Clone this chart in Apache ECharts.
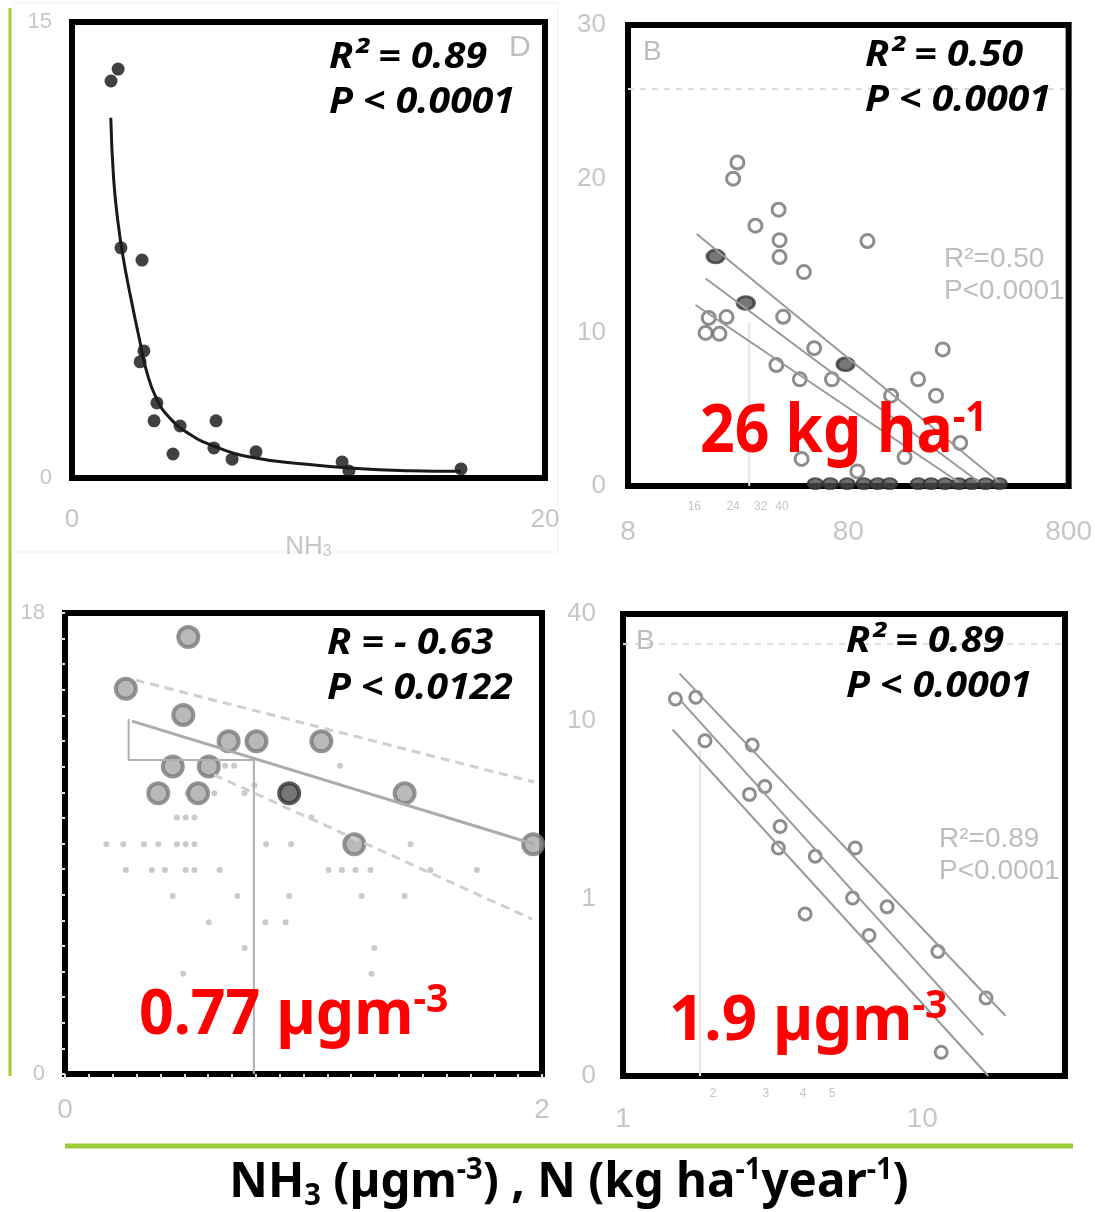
<!DOCTYPE html>
<html>
<head>
<meta charset="utf-8">
<title>NH3 / N deposition thresholds</title>
<script src="https://cdn.jsdelivr.net/npm/echarts@6.0.0/dist/echarts.min.js"></script>
<style>
  html, body { margin: 0; padding: 0; background: #fff; }
  #chart { width: 1095px; height: 1212px; }
</style>
</head>
<body>
<div id="chart"></div>
<script>
// ---- panel 1 (top left): NH3 concentration, power-law fit ----
const p1Nh3   = [1.65, 1.95, 2.07, 2.96, 3.04, 2.88, 3.59, 3.47, 4.57, 6.09, 4.27, 6.00, 6.77, 7.78, 11.42, 11.71, 16.45];
const p1Value = [13.06, 13.45, 7.57, 7.17, 4.18, 3.82, 2.47, 1.88, 1.71, 1.88, 0.79, 0.99, 0.62, 0.86, 0.53, 0.23, 0.30];
const p1FitX  = [1.64, 1.76, 1.94, 2.16, 2.47, 2.85, 3.15, 3.60, 4.20, 4.96, 6.00, 7.53, 9.79, 12.05, 14.32, 16.44];
const p1FitY  = [11.85, 9.85, 8.44, 7.27, 5.99, 4.57, 3.52, 2.57, 1.92, 1.45, 1.05, 0.69, 0.46, 0.31, 0.24, 0.22];
const p1XTicks = [0, 20];
const p1YTicks = [0, 15];

// ---- panel 2 (top right): N deposition (log x) ----
const p2Dep   = [25.1, 24.0, 38.6, 30.3, 39.0, 39.0, 97.7, 50.3, 18.6, 22.4, 18.0, 20.8, 40.5, 56.0, 37.7, 48.2, 67.4, 214.6, 165.9, 125.1, 200, 257.6, 144, 49.1, 87.9];
const p2Value = [21.05, 20.0, 17.98, 16.94, 16.0, 14.9, 15.94, 13.92, 10.94, 10.99, 9.96, 9.90, 11.01, 8.97, 7.87, 6.94, 6.94, 8.89, 6.94, 5.88, 5.88, 2.80, 1.88, 1.76, 0.95];
const p2DarkDep   = [20.0, 27.4, 77.7];
const p2DarkValue = [14.94, 11.91, 7.92];
const p2ZeroDep   = [56.6, 66.2, 79.0, 94.1, 108.8, 123.2, 166.2, 190.2, 219.8, 254, 290.5, 335.8, 388];
const p2ZeroValue = [0.15, 0.15, 0.15, 0.15, 0.15, 0.15, 0.15, 0.15, 0.15, 0.15, 0.15, 0.15, 0.15];
const p2FitUpper = [[16.4, 16.4], [386.7, 0.26]];
const p2FitMid   = [[18.0, 13.5], [313, 0.26]];
const p2FitLower = [[16.2, 11.78], [253, 0.26]];
const p2RefLine  = [[8, 25.83], [800, 25.83]];
const p2Threshold = [[28.4, 10.7], [28.4, 0]];
const p2XTicks = [8, 80, 800];
const p2XMinorTicks = [16, 24, 32, 40];
const p2YTicks = [0, 10, 20, 30];

// ---- panel 3 (bottom left): NH3, linear ----
const p3BigNh3   = [0.517, 0.255, 0.496, 0.686, 0.803, 1.075, 0.452, 0.603, 0.391, 0.558, 1.424, 1.213, 1.963];
const p3BigValue = [17.06, 15.04, 14.02, 12.99, 12.99, 12.99, 12.01, 12.01, 10.96, 10.96, 10.96, 8.97, 8.97];
const p3DarkNh3   = [0.940];
const p3DarkValue = [10.96];
const p3DotNh3 = [0.671, 0.709, 1.153, 0.794, 0.514, 0.626, 0.753, 0.469, 0.506, 0.543, 1.033,
  0.174, 0.244, 0.331, 0.391, 0.469, 0.506, 0.543, 0.843, 0.948, 1.449,
  0.255, 0.364, 0.419, 0.506, 0.543, 0.648, 1.105, 1.161, 1.218, 1.281, 1.532, 1.727,
  0.452, 0.723, 0.940, 1.244, 1.424, 0.603, 0.840, 0.925, 0.753, 1.297, 0.496, 1.285];
const p3DotValue = [12.04, 12.04, 12.04, 11.27, 10.96, 10.96, 10.96, 10.02, 10.02, 10.02, 10.02,
  8.97, 8.97, 8.97, 8.97, 8.97, 8.97, 8.97, 8.97, 8.97, 8.97,
  7.97, 7.97, 7.97, 7.97, 7.97, 7.97, 7.97, 7.97, 7.97, 7.97, 7.97, 7.97,
  6.95, 6.95, 6.95, 6.95, 6.95, 5.93, 5.93, 5.93, 4.92, 4.92, 3.91, 3.91];
const p3Fit       = [[0.281, 13.78], [1.966, 8.98]];
const p3FitUpper  = [[0.296, 15.38], [1.966, 11.40]];
const p3FitLower  = [[0.625, 11.68], [1.958, 6.05]];
const p3Threshold = [[0.267, 13.86], [0.267, 12.26], [0.792, 12.26], [0.792, 0]];
const p3XTicks = [0, 2];
const p3YTicks = [0, 18];

// ---- panel 4 (bottom right): NH3, log-log ----
const p4Nh3   = [1.497, 1.751, 1.879, 2.703, 2.646, 2.978, 3.35, 3.306, 4.39, 5.97, 5.85, 7.63, 4.06, 6.64, 11.28, 16.34, 11.57];
const p4Value = [13.28, 13.59, 7.73, 7.31, 3.855, 4.27, 2.544, 1.924, 1.73, 1.924, 1.006, 0.897, 0.818, 0.619, 0.503, 0.275, 0.136];
const p4FitUpper = [[1.545, 18.45], [18.97, 0.2186]];
const p4FitMid   = [[1.575, 12.76], [15.99, 0.1693]];
const p4FitLower = [[1.465, 8.94], [16.63, 0.1]];
const p4RefLine  = [[1, 27.06], [30, 27.06]];
const p4Threshold = [[1.809, 6.76], [1.809, 0.1]];
const p4XTicks = [1, 10];
const p4XMinorTicks = [2, 3, 4, 5];
const p4YTicks = [0.1, 1, 10, 40];
const p4YTickLabels = ['0', '1', '10', '40'];

const zip = (xs, ys) => xs.map((x, i) => [x, ys[i]]);
const faint = '#c6c6c6';

function axis(gridIndex, extra) {
  return Object.assign({
    gridIndex,
    axisLine: { show: false },
    axisTick: { show: false },
    splitLine: { show: false }
  }, extra);
}
function labels(values, fontSize, margin, formatter) {
  return { customValues: values, fontSize, margin, color: faint, fontFamily: 'Liberation Sans', formatter: formatter || (v => String(Math.round(v))) };
}

const chart = echarts.init(document.getElementById('chart'));

const grids = [
  { left: 72, top: 22, width: 473, height: 456 },
  { left: 628, top: 25, width: 446, height: 461 },
  { left: 65, top: 613, width: 477, height: 461 },
  { left: 623, top: 614, width: 442, height: 462 }
].map(g => Object.assign(g, { show: true, borderColor: '#000', borderWidth: 6, backgroundColor: '#fff' }));

const openCircle = { color: 'rgba(255,255,255,0)', borderColor: '#707070', borderWidth: 3 };
const thinLine = (data, xi, yi, style) => ({
  type: 'line', xAxisIndex: xi, yAxisIndex: yi, data, symbol: 'none', silent: true,
  lineStyle: Object.assign({ color: '#999', width: 2 }, style)
});

function statText(x, y, text) {
  return {
    type: 'text', x, y: y + 3, z: 100, scaleX: 1.12,
    style: { text, font: 'italic bold 35px "Noto Sans"', fill: '#000', verticalAlign: 'middle', textVerticalAlign: 'middle' }
  };
}
function faintText(x, y, text, size) {
  return {
    type: 'text', x, y, z: 50,
    style: { text, font: (size || 28) + 'px "Liberation Sans"', fill: '#bdbdbd', verticalAlign: 'middle', textVerticalAlign: 'middle' }
  };
}
function redText(x, y, main, sup, size, scale) {
  return {
    type: 'text', x, y: y + 4, z: 100, scaleX: scale,
    style: {
      text: '{m|' + main + '}{s|' + sup + '}',
      verticalAlign: 'middle', textVerticalAlign: 'middle',
      rich: {
        m: { font: 'bold ' + size + 'px "Noto Sans"', fill: '#ff0000', lineHeight: 70 },
        s: { font: 'bold ' + Math.round(size * 0.64) + 'px "Noto Sans"', fill: '#ff0000', lineHeight: 48, verticalAlign: 'top' }
      }
    }
  };
}

chart.setOption({
  animation: false,
  backgroundColor: '#fff',
  grid: grids,
  xAxis: [
    axis(0, { type: 'value', min: 0, max: 20, axisLabel: labels(p1XTicks, 26, 29),
      name: '{n|NH}{b|3}', nameLocation: 'middle', nameGap: 38,
      nameTextStyle: { rich: { n: { fontSize: 26, color: faint, fontFamily: 'Liberation Sans' }, b: { fontSize: 16, color: faint, verticalAlign: 'bottom', lineHeight: 14 } } } }),
    axis(1, { type: 'log', logBase: 10, min: 8, max: 800, position: 'bottom', axisLabel: labels(p2XTicks, 28, 32) }),
    axis(1, { type: 'log', logBase: 10, min: 8, max: 800, position: 'bottom', axisLabel: labels(p2XMinorTicks, 12, 15) }),
    axis(2, { type: 'value', min: 0, max: 2, interval: 0.1, axisLabel: labels(p3XTicks, 28, 22),
      axisTick: { show: true, length: 5, lineStyle: { color: '#dedede', width: 2 } } }),
    axis(3, { type: 'log', logBase: 10, min: 1, max: 30, position: 'bottom', axisLabel: labels(p4XTicks, 28, 29) }),
    axis(3, { type: 'log', logBase: 10, min: 1, max: 30, position: 'bottom', axisLabel: labels(p4XMinorTicks, 12, 12) })
  ],
  yAxis: [
    axis(0, { type: 'value', min: 0, max: 15, axisLabel: labels(p1YTicks, 22, 20) }),
    axis(1, { type: 'value', min: 0, max: 30, axisLabel: labels(p2YTicks, 26, 22) }),
    axis(2, { type: 'value', min: 0, max: 18, interval: 1, axisLabel: labels(p3YTicks, 22, 20),
      axisTick: { show: true, length: 5, lineStyle: { color: '#e2e2e2', width: 2 } } }),
    axis(3, { type: 'log', logBase: 10, min: 0.1, max: 40, axisLabel: labels(p4YTicks, 26, 27, v => {
      const i = p4YTicks.findIndex(t => Math.abs(t - v) / t < 1e-6);
      return i >= 0 ? p4YTickLabels[i] : '';
    }) })
  ],
  series: [
    // panel 1
    { type: 'line', xAxisIndex: 0, yAxisIndex: 0, data: zip(p1FitX, p1FitY), smooth: true, symbol: 'none',
      lineStyle: { color: '#1a1a1a', width: 3 } },
    { type: 'scatter', xAxisIndex: 0, yAxisIndex: 0, data: zip(p1Nh3, p1Value), symbolSize: 13,
      itemStyle: { color: '#111' } },

    // panel 2
    thinLine(p2RefLine, 1, 1, { color: '#dcdcdc', type: [6, 6] }),
    thinLine(p2Threshold, 1, 1, { color: '#e6e6e6' }),
    thinLine(p2FitUpper, 1, 1),
    thinLine(p2FitMid, 1, 1),
    thinLine(p2FitLower, 1, 1),
    { type: 'scatter', xAxisIndex: 1, yAxisIndex: 1, data: zip(p2Dep, p2Value), symbolSize: 13, itemStyle: openCircle },
    { type: 'scatter', xAxisIndex: 1, yAxisIndex: 1, data: zip(p2DarkDep, p2DarkValue), symbolSize: [17, 13],
      itemStyle: { color: '#555', borderColor: '#3a3a3a', borderWidth: 3 } },
    { type: 'scatter', xAxisIndex: 1, yAxisIndex: 1, data: zip(p2ZeroDep, p2ZeroValue), symbolSize: [15, 11],
      itemStyle: { color: '#4a4a4a', borderColor: '#333', borderWidth: 2 } },

    // panel 3
    thinLine(p3Threshold, 3, 2, { color: '#b0b0b0', width: 2 }),
    thinLine(p3FitUpper, 3, 2, { color: '#cfcfcf', width: 3, type: [9, 6] }),
    thinLine(p3FitLower, 3, 2, { color: '#cfcfcf', width: 3, type: [9, 6] }),
    thinLine(p3Fit, 3, 2, { color: '#ababab', width: 3 }),
    { type: 'scatter', xAxisIndex: 3, yAxisIndex: 2, data: zip(p3DotNh3, p3DotValue), symbolSize: 6,
      itemStyle: { color: '#bdbdbd' } },
    { type: 'scatter', xAxisIndex: 3, yAxisIndex: 2, data: zip(p3BigNh3, p3BigValue), symbolSize: 20,
      itemStyle: { color: '#a8a8a8', borderColor: '#7b7b7b', borderWidth: 4 } },
    { type: 'scatter', xAxisIndex: 3, yAxisIndex: 2, data: zip(p3DarkNh3, p3DarkValue), symbolSize: 20,
      itemStyle: { color: '#555', borderColor: '#333', borderWidth: 4 } },

    // panel 4
    thinLine(p4RefLine, 4, 3, { color: '#dcdcdc', type: [6, 6] }),
    thinLine(p4Threshold, 4, 3, { color: '#e6e6e6' }),
    thinLine(p4FitUpper, 4, 3),
    thinLine(p4FitMid, 4, 3),
    thinLine(p4FitLower, 4, 3),
    { type: 'scatter', xAxisIndex: 4, yAxisIndex: 3, data: zip(p4Nh3, p4Value), symbolSize: 12, itemStyle: openCircle }
  ],
  graphic: [
    // green frame lines of the slide
    { type: 'line', z: 1, shape: { x1: 10, y1: 8, x2: 10, y2: 1076 }, style: { stroke: '#9fcc2e', lineWidth: 3 } },
    { type: 'line', z: 1, shape: { x1: 65, y1: 1146, x2: 1073, y2: 1146 }, style: { stroke: '#9ccb3b', lineWidth: 5 } },
    { type: 'rect', z: -1, shape: { x: 14, y: 3, width: 544, height: 549 }, style: { fill: 'none', stroke: '#eeeeee', lineWidth: 1 } },

    // faint letters and stats from the original figures
    faintText(509, 48, 'D', 30),
    faintText(643, 52, 'B', 28),
    faintText(636, 641, 'B', 28),
    faintText(944, 259, 'R²=0.50'),
    faintText(944, 291, 'P<0.0001'),
    faintText(939, 839, 'R²=0.89'),
    faintText(939, 871, 'P<0.0001'),

    // statistics
    statText(329, 55, 'R² = 0.89'),
    statText(329, 100, 'P < 0.0001'),
    statText(865, 53, 'R² = 0.50'),
    statText(865, 98, 'P < 0.0001'),
    statText(327, 641, 'R = - 0.63'),
    statText(327, 686, 'P < 0.0122'),
    statText(846, 639, 'R² = 0.89'),
    statText(846, 684, 'P < 0.0001'),

    // thresholds
    redText(700, 429, '26 kg ha', '-1', 66, 0.92),
    redText(139, 1012, '0.77 µgm', '-3', 62, 0.98),
    redText(669, 1018, '1.9 µgm', '-3', 63, 0.98),

    // bottom axis title
    {
      type: 'text', x: 569, y: 1183, z: 100, scaleX: 0.97,
      style: {
        text: '{m|NH}{b|3}{m| (µgm}{t|-3}{m|) , N (kg ha}{t|-1}{m|year}{t|-1}{m|)}',
        align: 'center', textAlign: 'center', verticalAlign: 'middle', textVerticalAlign: 'middle',
        rich: {
          m: { font: 'bold 49px "Noto Sans"', fill: '#000', lineHeight: 56 },
          b: { font: 'bold 30px "Noto Sans"', fill: '#000', lineHeight: 24, verticalAlign: 'bottom' },
          t: { font: 'bold 30px "Noto Sans"', fill: '#000', lineHeight: 40, verticalAlign: 'top' }
        }
      }
    }
  ]
});
</script>
</body>
</html>
